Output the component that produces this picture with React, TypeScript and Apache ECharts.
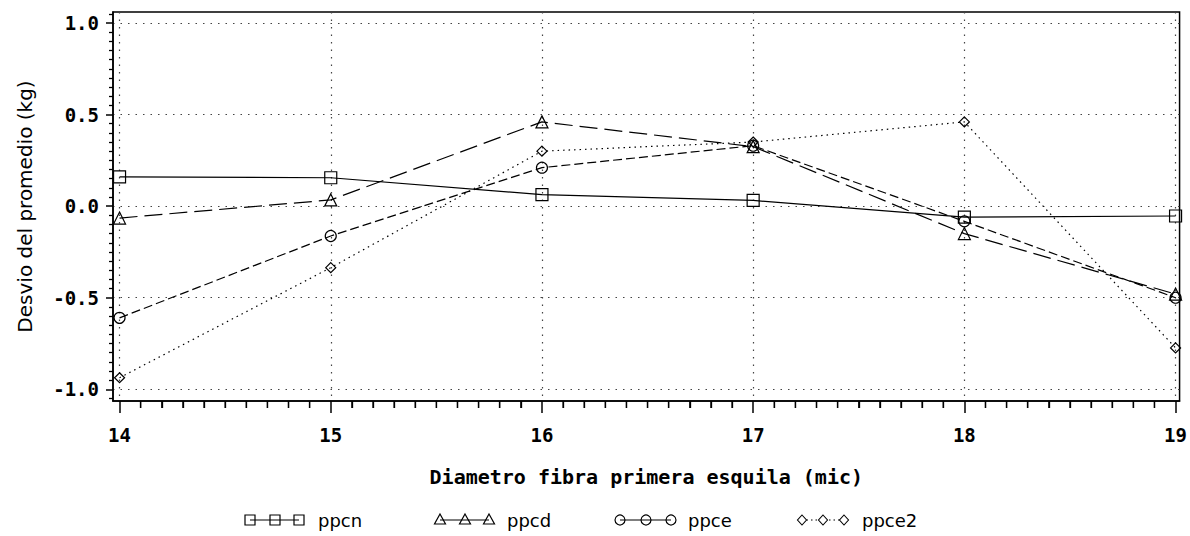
import React, { useEffect, useRef } from "react";
import * as echarts from "echarts";

const xValues = [14, 15, 16, 17, 18, 19];
const seriesNames = ["ppcn", "ppcd", "ppce", "ppce2"];
const ppcn = [0.16, 0.155, 0.063, 0.031, -0.06, -0.054];
const ppcd = [-0.065, 0.034, 0.46, 0.325, -0.15, -0.48];
const ppce = [-0.61, -0.163, 0.21, 0.33, -0.083, -0.5];
const ppce2 = [-0.937, -0.336, 0.3, 0.35, 0.46, -0.774];

const xTicks = [14, 15, 16, 17, 18, 19];
const yTicks = [-1.0, -0.5, 0.0, 0.5, 1.0];

const xTitle = "Diametro fibra primera esquila (mic)";
const yTitle = "Desvio del promedio (kg)";

const X_MIN = 13.969;
const X_MAX = 19.019;
const Y_MIN = -1.064;
const Y_MAX = 1.06;

const xMinor: number[] = [];
for (let i = 140; i <= 190; i++) if (i % 10 !== 0) xMinor.push(i / 10);

const MONO = "DejaVu Sans Mono";
const SANS = "DejaVu Sans";

export default function App() {
  const ref = useRef<HTMLDivElement>(null);
  useEffect(() => {
    if (!ref.current) return;
    const chart = echarts.init(ref.current, undefined, { renderer: "svg" });
    const allData = [ppcn, ppcd, ppce, ppce2];
    const symbols = ["rect", "triangle", "circle", "diamond"];
    const sizes = [12, 12, 11, 10];
    const dashes: any[] = ["solid", [18, 7], [9, 4], [1.5, 4]];

    const series: any[] = allData.map((vals, si) => ({
      type: "line",
      name: seriesNames[si],
      data: xValues.map((x, i) => [x, vals[i]]),
      symbol: symbols[si],
      symbolSize: sizes[si],
      showAllSymbol: true,
      lineStyle: { color: "#000", width: 1.2, type: dashes[si] },
      itemStyle: { color: "transparent", borderColor: "#000", borderWidth: 1.2 },
      z: 3,
    }));
    // minor ticks on the x axis, placed through the axis scale
    series.push({
      type: "custom",
      name: "_xminor",
      silent: true,
      clip: false,
      data: xMinor.map((x) => [x, Y_MIN]),
      renderItem: (_params: any, api: any) => {
        const p = api.coord([api.value(0), api.value(1)]);
        return {
          type: "line",
          shape: { x1: p[0], y1: p[1], x2: p[0], y2: p[1] + 7 },
          style: { stroke: "#000", lineWidth: 1.3 },
        };
      },
      z: 4,
    });

    // legend drawn as graphic decoration
    const legendCenters = [
      [250, 275, 299],
      [440, 465, 489],
      [620, 646, 671],
      [802, 823, 844],
    ];
    const legendText = [318, 507, 688, 862];
    const ly = 520;
    const graphics: any[] = [];
    const st = { stroke: "#000", fill: "none", lineWidth: 1.2 };
    legendCenters.forEach((cs, si) => {
      graphics.push({
        type: "polyline",
        shape: { points: [[cs[0], ly], [cs[2], ly]] },
        style: { stroke: "#000", lineWidth: 1.2, lineDash: si === 3 ? [1.5, 3] : null },
      });
      cs.forEach((cx) => {
        if (si === 0) {
          graphics.push({ type: "rect", shape: { x: cx - 5, y: ly - 5, width: 10, height: 10 }, style: st });
        } else if (si === 1) {
          graphics.push({
            type: "polygon",
            shape: { points: [[cx, ly - 6], [cx + 5.5, ly + 4], [cx - 5.5, ly + 4]] },
            style: st,
          });
        } else if (si === 2) {
          graphics.push({ type: "circle", shape: { cx, cy: ly, r: 5 }, style: st });
        } else {
          graphics.push({
            type: "polygon",
            shape: { points: [[cx, ly - 5], [cx + 4.5, ly], [cx, ly + 5], [cx - 4.5, ly]] },
            style: { stroke: "#000", fill: "#fff", lineWidth: 1.1 },
          });
        }
      });
      graphics.push({
        type: "text",
        x: legendText[si],
        y: ly,
        style: {
          text: seriesNames[si],
          font: `18px "${SANS}"`,
          fill: "#000",
          verticalAlign: "middle",
          align: "left",
        },
      });
    });

    const gridDash = { color: "#444", width: 1.2, type: [1.5, 6] as any };

    chart.setOption({
      animation: false,
      backgroundColor: "#fff",
      grid: {
        left: 113,
        right: 8,
        top: 12,
        bottom: 135,
        show: true,
        borderColor: "#000",
        borderWidth: 1.5,
        containLabel: false,
      },
      xAxis: {
        type: "value",
        min: X_MIN,
        max: X_MAX,
        splitNumber: 5,
        position: "bottom",
        axisLine: { show: true, onZero: false, lineStyle: { color: "#000", width: 1.5 } },
        axisTick: { show: true, customValues: xTicks, length: 12, lineStyle: { color: "#000", width: 1.5 } },
        minorTick: { show: true, splitNumber: 10, length: 7, lineStyle: { color: "#000", width: 1.3 } },
        axisLabel: {
          show: true,
          customValues: xTicks,
          margin: 24,
          fontFamily: MONO,
          fontWeight: "bold",
          fontSize: 19,
          color: "#000",
          formatter: (v: number) => String(Math.round(v)),
        },
        splitLine: { show: true, lineStyle: gridDash },
        name: xTitle,
        nameLocation: "middle",
        nameGap: 66,
        nameTextStyle: { fontFamily: MONO, fontWeight: "bold", fontSize: 20, color: "#000" },
      },
      yAxis: {
        type: "value",
        min: Y_MIN,
        max: Y_MAX,
        splitNumber: 5,
        position: "left",
        axisLine: { show: true, onZero: false, lineStyle: { color: "#000", width: 1.5 } },
        axisTick: { show: true, customValues: yTicks, length: 7, lineStyle: { color: "#000", width: 1.5 } },
        minorTick: { show: true, splitNumber: 10, length: 4, lineStyle: { color: "#000", width: 1.3 } },
        axisLabel: {
          show: true,
          customValues: yTicks,
          margin: 14,
          fontFamily: MONO,
          fontWeight: "bold",
          fontSize: 19,
          color: "#000",
          formatter: (v: number) => v.toFixed(1),
        },
        splitLine: { show: true, lineStyle: gridDash },
        name: yTitle,
        nameLocation: "middle",
        nameGap: 78,
        nameRotate: 90,
        nameTextStyle: { fontFamily: SANS, fontSize: 20, color: "#000" },
      },
      series,
      graphic: graphics,
    });
    return () => chart.dispose();
  }, []);
  return (
    <div
      ref={ref}
      style={{ position: "absolute", left: 0, top: 0, width: 1190, height: 536 }}
    />
  );
}
